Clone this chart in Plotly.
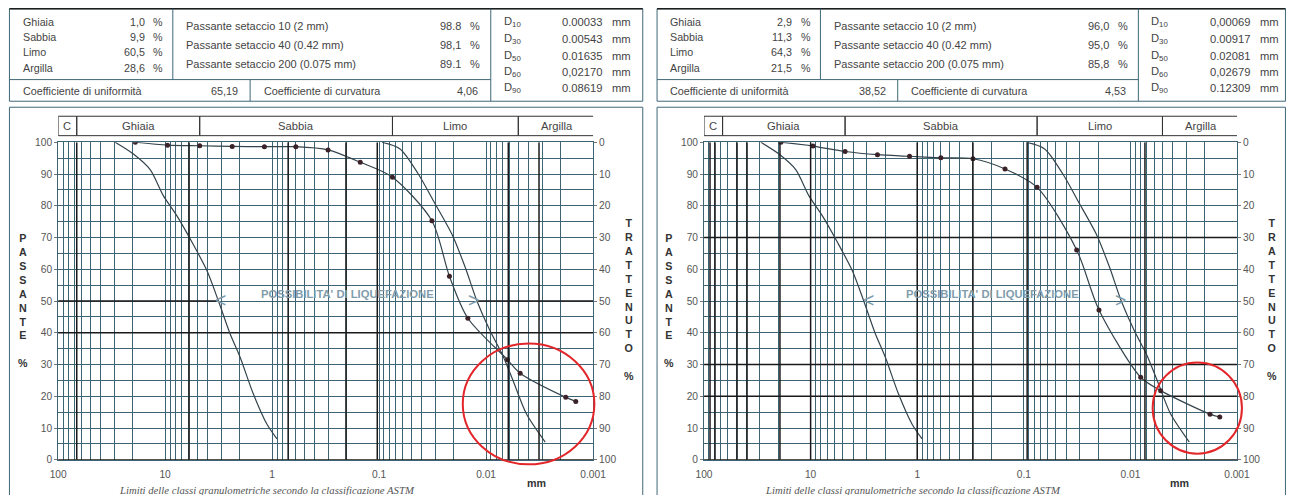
import math
import plotly.graph_objects as go

FIG_W, FIG_H = 1300, 505

# ---------------- data ----------------
sieve_mm = [19, 9.5, 4.75, 2.36, 1.18, 0.6, 0.3, 0.15, 0.075]

s1_sieve_pct = [100.0, 99.1, 98.9, 98.7, 98.6, 98.6, 97.6, 93.7, 89.0]
s1_hydro_mm = [0.0321, 0.0220, 0.0148, 0.0063, 0.0048, 0.0018, 0.00145]
s1_hydro_pct = [75.3, 57.8, 44.6, 31.5, 27.3, 19.7, 18.4]

s2_sieve_pct = [100.0, 98.8, 97.1, 96.1, 95.6, 95.1, 94.8, 91.6, 85.8]
s2_hydro_mm = [0.0319, 0.0197, 0.0080, 0.0052, 0.00179, 0.00145]
s2_hydro_pct = [66.1, 47.2, 26.0, 21.8, 14.4, 13.5]

# liquefaction boundary curves
liq_a_mm = [29.3, 19.8, 13.8, 10.4, 7.78, 5.6, 4.07, 3.18, 2.47, 1.99, 1.50, 1.12, 0.90]
liq_a_pct = [100, 96.3, 91.4, 83.2, 76.9, 68.5, 59.6, 50.1, 39.7, 32.3, 20.8, 11.3, 6.6]
liq_b_mm = [0.094, 0.0637, 0.043, 0.0311, 0.0209, 0.0157, 0.0122, 0.0092, 0.0071, 0.0056, 0.0042, 0.0028]
liq_b_pct = [100, 97.9, 90.0, 81.6, 71.1, 60.7, 50.1, 40.7, 33.4, 25.0, 14.5, 5.6]

# ASTM class limits (mm) and names
class_limits = [100, 67, 4.75, 0.075, 0.005, 0.00095]
class_names = ["C", "Ghiaia", "Sabbia", "Limo", "Argilla"]

# axis ticks
x_decades = [100, 10, 1, 0.1, 0.01, 0.001]
x_decade_text = ["100", "10", "1", "0.1", "0.01", "0.001"]
y_minor_grid = list(range(0, 101, 5))
y_labels = list(range(0, 101, 10))

# heavy grid lines per chart
s1_heavy_x = [67, 5.97, 0.708, 0.204, 0.104, 0.0062, 0.0032]
s2_heavy_x = [87.9, 78.9, 49, 39.5, 19.4, 10, 1.0, 0.30, 0.093, 0.0073]
s1_heavy_y = [0, 40]
s2_heavy_y = [0, 70, 30, 20]
s1_partial_50 = [(100, 3.18), (0.0122, 0.001)]
s2_partial_50 = []

# tables
comp_labels = ["Ghiaia", "Sabbia", "Limo", "Argilla"]
s1_comp = ["1,0", "9,9", "60,5", "28,6"]
s2_comp = ["2,9", "11,3", "64,3", "21,5"]
pass_labels = ["Passante setaccio 10 (2 mm)", "Passante setaccio 40 (0.42 mm)",
               "Passante setaccio 200 (0.075 mm)"]
s1_pass = ["98.8", "98,1", "89.1"]
s2_pass = ["96,0", "95,0", "85,8"]
d_labels = ["10", "30", "50", "60", "90"]
s1_d = ["0.00033", "0.00543", "0.01635", "0,02170", "0.08619"]
s2_d = ["0,00069", "0.00917", "0.02081", "0,02679", "0.12309"]
s1_cu, s1_cc = "65,19", "4,06"
s2_cu, s2_cc = "38,52", "4,53"

caption = "Limiti delle classi granulometriche secondo la classificazione ASTM"

# ---------------- geometry / style ----------------
FONT = "Arial, Liberation Sans, sans-serif"
GRID = "#3e6374"
HEAVY = "#1a1a1a"
TXT = "#444444"

# layout positions are given in target-picture pixels and mapped to paper
PLOT_X = [(58, 593), (704, 1237)]
PLOT_Y = (143.3, 460.5)
PANEL_X = [(9.3, 642.7), (657, 1285.5)]

# page-capture compensation (observed scale/offset of the photographed page)
SX, OX = 0.984, 7.85
SY, OY = 0.977, 6.2
FS = 1.02  # font compensation


def px(x):
    v = (x - OX) / SX
    v = min(max(v, 0.5), FIG_W - 0.5)
    return v / FIG_W


def py(y):
    return 1 - ((y - OY) / SY) / FIG_H


x_grid = [k * 10 ** e for e in range(-3, 2) for k in range(1, 10)] + [100]

fig = go.Figure()
shapes = []
annotations = []


def ann(x, y, text, size=9, color=TXT, xanchor="left", bold=False, xref="paper", yref="paper", family=FONT):
    if bold:
        text = "<b>" + text + "</b>"
    annotations.append(dict(x=x, y=y, xref=xref, yref=yref, text=text, showarrow=False,
                            xanchor=xanchor, yanchor="middle",
                            font=dict(family=family, size=size * FS, color=color)))


def line(x0, y0, x1, y1, color="#3f6878", width=1):
    shapes.append(dict(type="line", xref="paper", yref="paper", x0=px(x0), y0=py(y0),
                       x1=px(x1), y1=py(y1), line=dict(color=color, width=width)))


samples = [
    dict(sieve=s1_sieve_pct, hmm=s1_hydro_mm, hpct=s1_hydro_pct, hx=s1_heavy_x, hy=s1_heavy_y,
         p50=s1_partial_50, comp=s1_comp, pas=s1_pass, d=s1_d, cu=s1_cu, cc=s1_cc,
         ell=(462.7, 344.3, 594.3, 465.0),
         chev=((220, 301), (473, 301)), liqtxt=(347.5, 295)),
    dict(sieve=s2_sieve_pct, hmm=s2_hydro_mm, hpct=s2_hydro_pct, hx=s2_heavy_x, hy=s2_heavy_y,
         p50=s2_partial_50, comp=s2_comp, pas=s2_pass, d=s2_d, cu=s2_cu, cc=s2_cc,
         ell=(1152.7, 363.3, 1242.0, 454.3),
         chev=((868, 301), (1121, 301)), liqtxt=(993, 295)),
]

for i, s in enumerate(samples):
    sfx = "" if i == 0 else "2"
    xa = "x" + sfx
    ya = "y" + sfx
    yr = "y3" if i == 0 else "y4"

    # heavy vertical grid lines (span full height)
    vx, vy = [], []
    for v in s["hx"]:
        vx += [v, v, None]
        vy += [0, 100, None]
    fig.add_trace(go.Scatter(x=vx, y=vy, xaxis=xa, yaxis=yr, mode="lines",
                             line=dict(color=HEAVY, width=1.5), hoverinfo="skip", showlegend=False))
    # heavy horizontal lines
    hx, hy = [], []
    for v in s["hy"]:
        hx += [100, 0.001, None]
        hy += [v, v, None]
    for a, b in s["p50"]:
        hx += [a, b, None]
        hy += [50, 50, None]
    fig.add_trace(go.Scatter(x=hx, y=hy, xaxis=xa, yaxis=ya, mode="lines",
                             line=dict(color=HEAVY, width=1.5), hoverinfo="skip", showlegend=False))
    # liquefaction boundary curves
    for cx, cy in ((liq_a_mm, liq_a_pct), (liq_b_mm, liq_b_pct)):
        fig.add_trace(go.Scatter(x=cx, y=cy, xaxis=xa, yaxis=ya, mode="lines",
                                 line=dict(color="#34444c", width=1.2, shape="spline", smoothing=0.8),
                                 hoverinfo="skip", showlegend=False))
    # grain size curve
    fig.add_trace(go.Scatter(x=sieve_mm + s["hmm"], y=s["sieve"] + s["hpct"], xaxis=xa, yaxis=ya,
                             mode="lines+markers",
                             line=dict(color="#34444c", width=1.2, shape="spline", smoothing=0.8),
                             marker=dict(size=5, color="#3a2228"),
                             hoverinfo="skip", showlegend=False))

    xd = [px(PLOT_X[i][0]), px(PLOT_X[i][1])]
    yd = [py(PLOT_Y[1]), py(PLOT_Y[0])]
    tickfont = dict(family=FONT, size=10 * FS, color="#555555")
    fig.update_layout(**{
        "xaxis" + sfx: dict(domain=xd, type="log", range=[2, -3], anchor=ya,
                            tickmode="array", tickvals=x_decades, ticktext=x_decade_text,
                            showgrid=True, gridcolor=GRID, gridwidth=1, zeroline=False,
                            minor=dict(tickmode="array", tickvals=x_grid, showgrid=True,
                                       gridcolor=GRID, gridwidth=1, ticks=""),
                            showline=True, mirror=True, linecolor=GRID, linewidth=1,
                            ticks="outside", ticklen=5, tickcolor="rgba(0,0,0,0)",
                            tickfont=tickfont, fixedrange=True),
        "yaxis" + sfx: dict(domain=yd, range=[0, 100], anchor=xa,
                            tickmode="array", tickvals=y_labels,
                            showgrid=True, gridcolor=GRID, gridwidth=1, zeroline=False,
                            minor=dict(tickmode="array", tickvals=y_minor_grid, showgrid=True,
                                       gridcolor=GRID, gridwidth=1, ticks=""),
                            showline=True, mirror=True, linecolor=GRID, linewidth=1,
                            ticks="outside", ticklen=3, tickcolor="#777777",
                            tickfont=tickfont, fixedrange=True),
        ("yaxis3" if i == 0 else "yaxis4"): dict(overlaying=ya, anchor=xa, side="right",
                                                  range=[100, 0], tickmode="array", tickvals=y_labels,
                                                  showgrid=False, zeroline=False, showline=False,
                                                  ticks="outside", ticklen=3, tickcolor="#777777",
                                                  tickfont=tickfont, fixedrange=True),
    })

    # class bar
    by0, by1 = 117.3, 136.7
    for k, name in enumerate(class_names):
        a, b = class_limits[k], class_limits[k + 1]
        shapes.append(dict(type="rect", xref=xa, yref="paper", x0=a, x1=b, y0=py(by1), y1=py(by0),
                           line=dict(color="#333333", width=1)))
        annotations.append(dict(x=(math.log10(a) + math.log10(b)) / 2, y=py((by0 + by1) / 2),
                                xref=xa, yref="paper", text=name, showarrow=False,
                                xanchor="center", yanchor="middle",
                                font=dict(family=FONT, size=11 * FS, color=TXT)))

    # panel frames and table
    X0, X1 = PANEL_X[i]
    shapes.append(dict(type="rect", xref="paper", yref="paper", x0=px(X0), x1=px(X1),
                       y0=py(102.3), y1=py(10), line=dict(color="#3f6878", width=1)))
    line(X0, 10, X1, 10, color="#1e1e1e", width=1.6)
    line(X0 + 163.4, 10, X0 + 163.4, 80.7)
    line(X0, 80.7, X0 + 481.4, 80.7)
    line(X0 + 481.4, 10, X0 + 481.4, 102.3)
    line(X0 + 240.7, 80.7, X0 + 240.7, 102.3)
    shapes.append(dict(type="rect", xref="paper", yref="paper", x0=px(X0), x1=px(X1),
                       y0=py(512), y1=py(108.3), line=dict(color="#3f6878", width=1)))

    for k, lab in enumerate(comp_labels):
        yy = [23, 38, 53, 69][k]
        ann(px(X0 + 11.4), py(yy), lab, size=10.5)
        ann(px(X0 + 137.4), py(yy), s["comp"][k], xanchor="right", size=10.5)
        ann(px(X0 + 142), py(yy), "%", size=10.5)
    for k, lab in enumerate(pass_labels):
        yy = [26.7, 45.7, 65][k]
        ann(px(X0 + 174.7), py(yy), lab, size=10.8)
        ann(px(X0 + 454), py(yy), s["pas"][k], xanchor="right", size=10.8)
        ann(px(X0 + 459), py(yy), "%", size=10.8)
    for k, lab in enumerate(d_labels):
        yy = [23.3, 40, 56.7, 72.7, 89.3][k]
        ann(px(X0 + 492.4), py(yy), "D<sub>" + lab + "</sub>", size=11)
        ann(px(X0 + 596), py(yy), s["d"][k], xanchor="right", size=11)
        ann(px(X0 + 600.7), py(yy), "mm", size=11)
    ann(px(X0 + 11.4), py(92), "Coefficiente di uniformità", size=10.6)
    ann(px(X0 + 230.7), py(92), s["cu"], xanchor="right", size=10.6)
    ann(px(X0 + 252.4), py(92), "Coefficiente di curvatura", size=10.6)
    ann(px(X0 + 470.7), py(92), s["cc"], xanchor="right", size=10.6)

    # axis titles
    pl, pr = PLOT_X[i]
    annotations.append(dict(x=px(pl - 35.5), y=py(231), xref="paper", yref="paper", yanchor="top",
                            xanchor="center",
                            text="<b>P<br>A<br>S<br>S<br>A<br>N<br>T<br>E<br> <br>%</b>", showarrow=False,
                            font=dict(family=FONT, size=10.5 * FS, color="#333333")))
    annotations.append(dict(x=px(pr + 35.5), y=py(216), xref="paper", yref="paper", yanchor="top",
                            xanchor="center",
                            text="<b>T<br>R<br>A<br>T<br>T<br>E<br>N<br>U<br>T<br>O<br> <br>%</b>",
                            showarrow=False, font=dict(family=FONT, size=10.5 * FS, color="#333333")))
    ann(px(pr - 57), py(483.3), "mm", size=10.5, color="#333333", xanchor="center", bold=True)
    ann(px(pl + 59), py(491), "<i>" + caption + "</i>", size=10.5, color="#555555",
        family="Liberation Serif, Times New Roman, serif")

    # liquefaction label + chevrons
    tx, ty = s["liqtxt"]
    ann(px(tx), py(ty), "POSSIBILITA' DI LIQUEFAZIONE", size=11, color="#7f9cab",
        xanchor="center", bold=True)
    (c1x, c1y), (c2x, c2y) = s["chev"]
    ann(px(c1x), py(c1y), "&lt;", size=19, color="#7f9cab", xanchor="center")
    ann(px(c2x), py(c2y), "&gt;", size=19, color="#7f9cab", xanchor="center")

    # red highlight ellipse
    e0, e1, e2, e3 = s["ell"]
    shapes.append(dict(type="circle", xref="paper", yref="paper", x0=px(e0), x1=px(e2),
                       y0=py(e3), y1=py(e1), line=dict(color="#e3262a", width=2)))

fig.update_layout(width=FIG_W, height=FIG_H, margin=dict(l=0, r=0, t=0, b=0), autosize=False,
                  paper_bgcolor="white", plot_bgcolor="white", showlegend=False,
                  shapes=shapes, annotations=annotations,
                  font=dict(family=FONT, size=9, color=TXT))

fix_page = (
    "var h=document.documentElement,b=document.body;"
    "h.style.margin='0';h.style.padding='0';h.style.overflow='hidden';"
    "b.style.margin='0';b.style.padding='0';b.style.overflow='hidden';"
    "var d=document.querySelector('.plotly-graph-div');"
    "if(d){d.style.position='fixed';d.style.left='0px';d.style.top='0px';}"
)
fig.write_html("out.html", config={"displayModeBar": False}, post_script=fix_page)
